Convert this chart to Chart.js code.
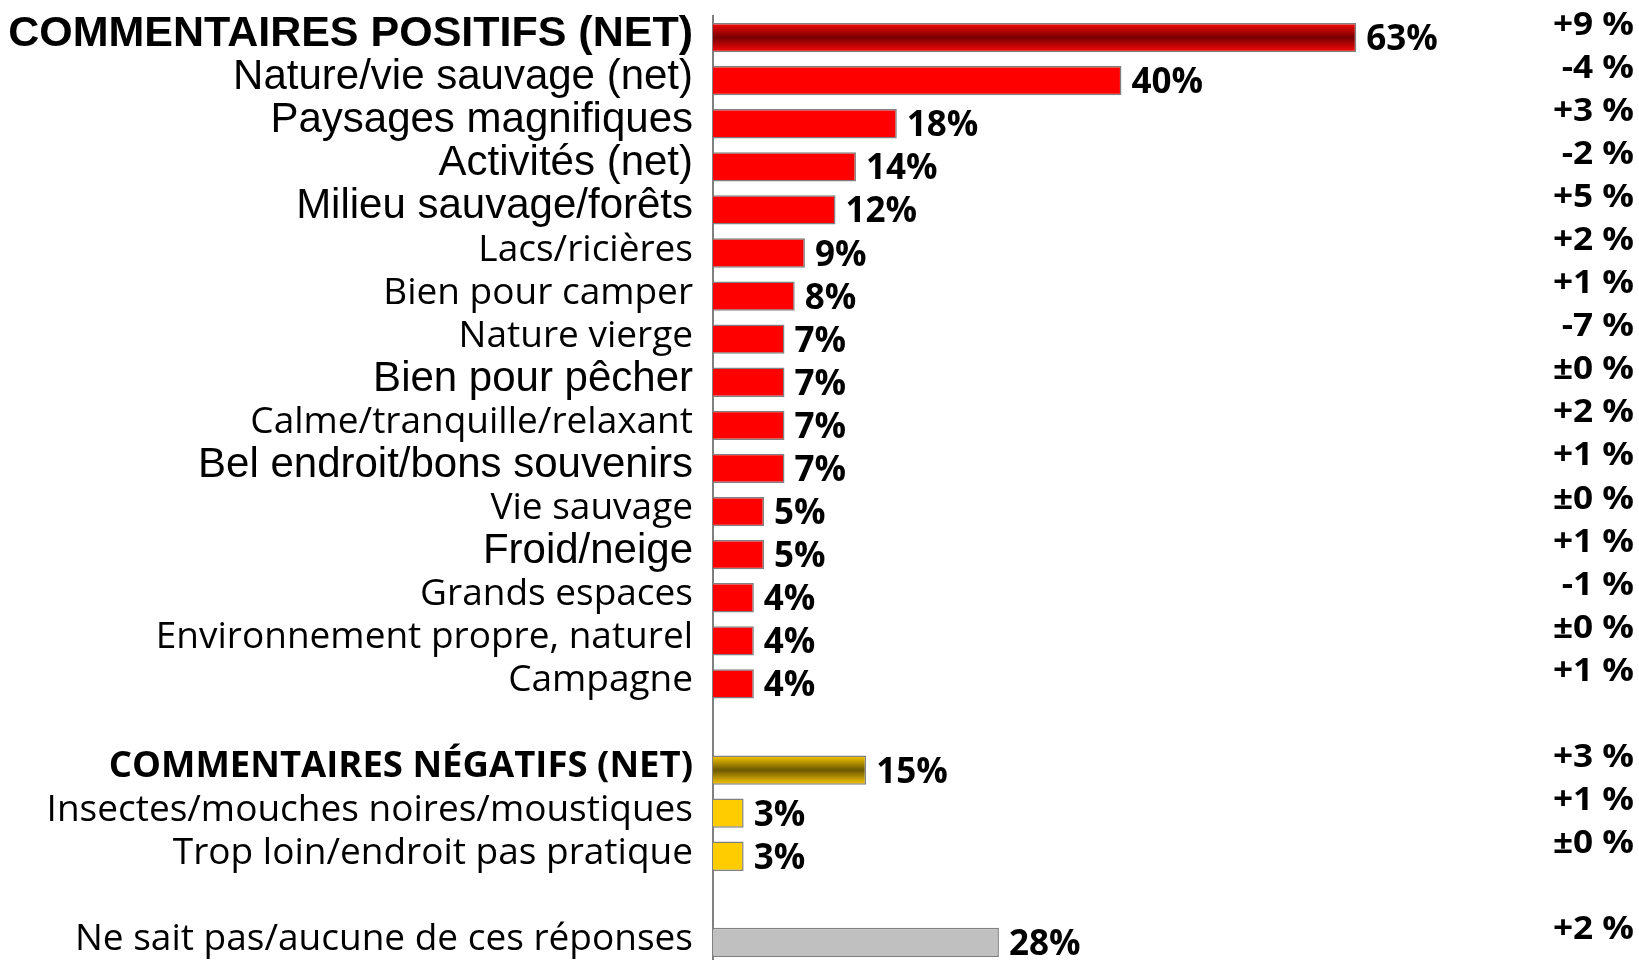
<!DOCTYPE html>
<html lang="fr">
<head>
<meta charset="utf-8">
<title>Commentaires positifs / négatifs</title>
<script src="https://cdn.jsdelivr.net/npm/chart.js@4.4.1/dist/chart.umd.min.js"></script>
<style>
  html, body { margin:0; padding:0; background:#fff; overflow:hidden; }
  .wrap { position:relative; width:1639px; height:964px; }
</style>
</head>
<body>
<div class="wrap"><canvas id="chart"></canvas></div>
<script>
const categories = [
  'COMMENTAIRES POSITIFS (NET)', 'Nature/vie sauvage (net)', 'Paysages magnifiques', 'Activités (net)',
  'Milieu sauvage/forêts', 'Lacs/ricières', 'Bien pour camper', 'Nature vierge', 'Bien pour pêcher',
  'Calme/tranquille/relaxant', 'Bel endroit/bons souvenirs', 'Vie sauvage', 'Froid/neige',
  'Grands espaces', 'Environnement propre, naturel', 'Campagne',
  '',
  'COMMENTAIRES NÉGATIFS (NET)', 'Insectes/mouches noires/moustiques', 'Trop loin/endroit pas pratique',
  '',
  'Ne sait pas/aucune de ces réponses'
];
const values  = [63, 40, 18, 14, 12, 9, 8, 7, 7, 7, 7, 5, 5, 4, 4, 4, null, 15, 3, 3, null, 28];
const changes = ['+9 %', '-4 %', '+3 %', '-2 %', '+5 %', '+2 %', '+1 %', '-7 %', '±0 %', '+2 %', '+1 %',
                 '±0 %', '+1 %', '-1 %', '±0 %', '+1 %', '', '+3 %', '+1 %', '±0 %', '', '+2 %'];
const groups  = ['pos-net', 'pos', 'pos', 'pos', 'pos', 'pos', 'pos', 'pos', 'pos', 'pos', 'pos',
                 'pos', 'pos', 'pos', 'pos', 'pos', '', 'neg-net', 'neg', 'neg', '', 'none'];

/* ── label styling (the source mixes Arial and Calibri) ── */
const ARIAL_ROWS = new Set([0, 1, 2, 3, 4, 8, 10, 12]);
const BOLD_ROWS  = new Set([0, 17]);

function labelFont(i){
  const bold = BOLD_ROWS.has(i);
  if (ARIAL_ROWS.has(i)) return { family: '"Liberation Sans", Arial, sans-serif', size: bold ? 43 : 42, weight: bold ? 'bold' : 'normal' };
  return { family: '"Open Sans", sans-serif', size: bold ? 36.5 : 37, weight: bold ? 'bold' : 'normal' };
}

/* ── bar fills ── */
const FILL  = { pos: '#ff0000', neg: '#ffcc00', none: '#c0c0c0' };
const SHADE = { 'pos-net': ['#ff0a0a', '#780000'], 'neg-net': ['#ffcc00', '#6b5800'] };

function barFill(c){
  const g = groups[c.dataIndex];
  if (!SHADE[g]) return FILL[g] || 'rgba(0,0,0,0)';
  const y = c.chart.scales.y;
  const mid = y ? y.getPixelForValue(c.dataIndex) : NaN;
  if (!Number.isFinite(mid)) return SHADE[g][0];
  const half = 15;
  const grad = c.chart.ctx.createLinearGradient(0, mid - half, 0, mid + half);
  grad.addColorStop(0, SHADE[g][0]);
  grad.addColorStop(0.5, SHADE[g][1]);
  grad.addColorStop(1, SHADE[g][0]);
  return grad;
}

/* ── value labels at the end of each bar ── */
const valueLabels = {
  id: 'valueLabels',
  afterDatasetsDraw(chart){
    const { ctx } = chart;
    const meta = chart.getDatasetMeta(0);
    ctx.save();
    ctx.font = 'bold 35px "Open Sans", sans-serif';
    ctx.fillStyle = '#000';
    ctx.textAlign = 'left';
    ctx.textBaseline = 'alphabetic';
    meta.data.forEach((bar, i) => {
      if (values[i] == null) return;
      ctx.fillText(values[i] + '%', bar.x + 10, bar.y + 12.5);
    });
    ctx.restore();
  }
};

/* ── change column on the right ── */
const changeColumn = {
  id: 'changeColumn',
  afterDraw(chart){
    const { ctx } = chart;
    const y = chart.scales.y;
    ctx.save();
    ctx.font = 'bold 32px "Open Sans", sans-serif';
    ctx.fillStyle = '#000';
    ctx.textAlign = 'right';
    ctx.textBaseline = 'alphabetic';
    changes.forEach((txt, i) => {
      if (!txt) return;
      const cy = y.getPixelForValue(i) - 14;
      ctx.save();
      ctx.translate(chart.width - 5, cy + 11);
      ctx.scale(1.1, 1);
      ctx.fillText(txt, 0, 0);
      ctx.restore();
    });
    ctx.restore();
  }
};

new Chart(document.getElementById('chart'), {
  type: 'bar',
  data: {
    labels: categories,
    datasets: [{
      data: values,
      backgroundColor: barFill,
      borderColor: '#808080',
      borderWidth: 1.5,
      barPercentage: 0.68,
      categoryPercentage: 1
    }]
  },
  options: {
    indexAxis: 'y',
    responsive: true, maintainAspectRatio: false,
    animation: false,
    layout: { padding: { top: 16, right: 7, bottom: 0, left: 0 } },
    plugins: { legend: { display: false }, tooltip: { enabled: false } },
    scales: {
      x: { display: false, min: 0, max: 90 },
      y: {
        grid: { display: false, drawTicks: false },
        border: { display: true, color: '#808080', width: 2 },
        ticks: { color: '#000', padding: 20, labelOffset: -3, autoSkip: false, font: c => labelFont(c.index) },
        afterFit(scale){
          scale.width = 713;
          scale.paddingTop = 0;
          scale.paddingBottom = 0;
        }
      }
    }
  },
  plugins: [valueLabels, changeColumn]
});
</script>
</body>
</html>
